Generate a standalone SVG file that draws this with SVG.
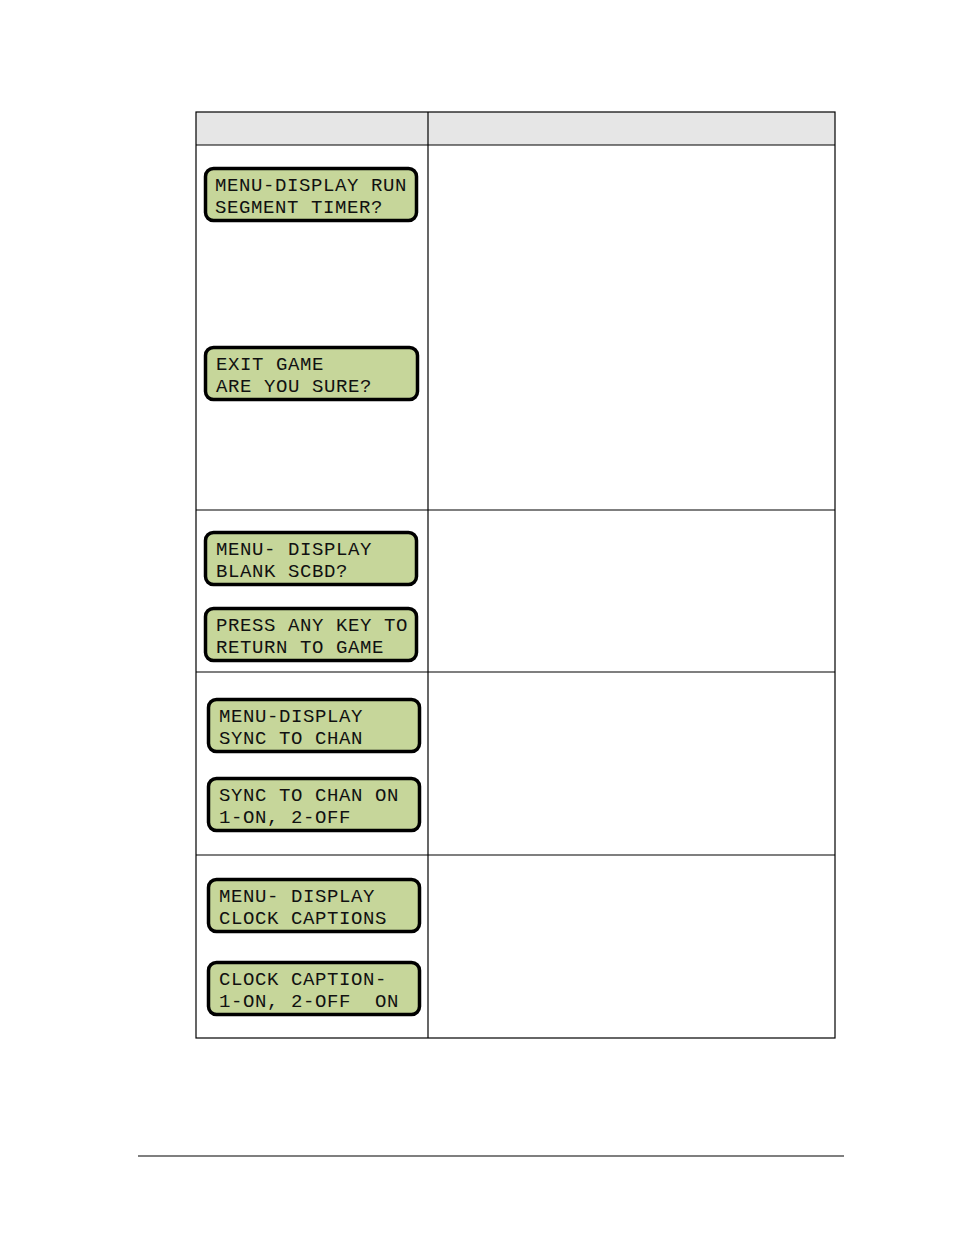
<svg xmlns="http://www.w3.org/2000/svg" width="954" height="1235" viewBox="0 0 954 1235">
<style>
.lcd rect{fill:#c6d69a;stroke:#000;stroke-width:3.5}
.lcd text{font-family:"Liberation Mono",monospace;font-size:19px;fill:#111;letter-spacing:0.6px}
.ln{stroke:#000;stroke-width:1.2;fill:none}
</style>
<rect x="0" y="0" width="954" height="1235" fill="#fff"/>
<rect x="196" y="112" width="639" height="33" fill="#e6e6e6"/>
<g id="table" class="ln">
<rect x="196" y="112" width="639" height="926"/>
<line x1="428" y1="112" x2="428" y2="1038"/>
<line x1="196" y1="145" x2="835" y2="145"/>
<line x1="196" y1="510" x2="835" y2="510"/>
<line x1="196" y1="672" x2="835" y2="672"/>
<line x1="196" y1="855" x2="835" y2="855"/>
<line x1="138" y1="1156" x2="844" y2="1156"/>
</g>
<g id="lcd1" class="lcd"><rect x="205.5" y="168.5" width="211" height="52" rx="8"/><text x="215" y="191">MENU-DISPLAY RUN</text><text x="215" y="213">SEGMENT TIMER?</text></g>
<g id="lcd2" class="lcd"><rect x="205.5" y="347.5" width="212" height="52" rx="8"/><text x="216" y="370">EXIT GAME</text><text x="216" y="392">ARE YOU SURE?</text></g>
<g id="lcd3" class="lcd"><rect x="205.5" y="532.5" width="211" height="52" rx="8"/><text x="216" y="555">MENU- DISPLAY</text><text x="216" y="577">BLANK SCBD?</text></g>
<g id="lcd4" class="lcd"><rect x="205.5" y="608.5" width="211" height="52" rx="8"/><text x="216" y="631">PRESS ANY KEY TO</text><text x="216" y="653">RETURN TO GAME</text></g>
<g id="lcd5" class="lcd"><rect x="208.5" y="699.5" width="211" height="52" rx="8"/><text x="219" y="722">MENU-DISPLAY</text><text x="219" y="744">SYNC TO CHAN</text></g>
<g id="lcd6" class="lcd"><rect x="208.5" y="778.5" width="211" height="52" rx="8"/><text x="219" y="801">SYNC TO CHAN ON</text><text x="219" y="823">1-ON, 2-OFF</text></g>
<g id="lcd7" class="lcd"><rect x="208.5" y="879.5" width="211" height="52" rx="8"/><text x="219" y="902">MENU- DISPLAY</text><text x="219" y="924">CLOCK CAPTIONS</text></g>
<g id="lcd8" class="lcd"><rect x="208.5" y="962.5" width="211" height="52" rx="8"/><text x="219" y="985">CLOCK CAPTION-</text><text x="219" y="1007" xml:space="preserve">1-ON, 2-OFF  ON</text></g>
<g id="connectors"/>
</svg>
